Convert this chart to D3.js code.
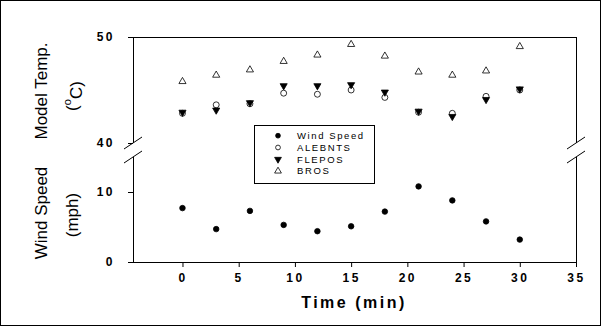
<!DOCTYPE html>
<html>
<head>
<meta charset="utf-8">
<script src="https://cdn.jsdelivr.net/npm/d3@7"></script>
<style>
    body { margin: 0; background: #fff; }
    svg { font-family: "Liberation Sans", Arial, sans-serif; }
    .tick text { font-weight: bold; font-size: 12px; letter-spacing: 2.5px; fill: #000; }
</style>
</head>
<body>
<div id="chart"></div>
<script>
// values
var times = [0, 3, 6, 9, 12, 15, 18, 21, 24, 27, 30];
var windSpeed = [7.7, 4.7, 7.3, 5.3, 4.4, 5.1, 7.2, 10.8, 8.8, 5.8, 3.2];
var alebnts = [42.8, 43.6, 43.7, 44.7, 44.6, 45.0, 44.3, 42.9, 42.8, 44.4, 45.0];
var flepos = [42.9, 43.1, 43.8, 45.4, 45.4, 45.5, 44.8, 43.0, 42.5, 44.1, 45.1];
var bros = [45.8, 46.4, 46.9, 47.7, 48.3, 49.3, 48.2, 46.7, 46.4, 46.8, 49.1];
var xTicks = [0, 5, 10, 15, 20, 25, 30, 35];
var tempTicks = [40, 50];
var windTicks = [0, 10];
var legendNames = ['Wind Speed', 'ALEBNTS', 'FLEPOS', 'BROS'];

var width = 603, height = 327;
var left = 133, right = 576;

var svg = d3.select('#chart')
    .append('svg')
    .attr('width', width)
    .attr('height', height);

// outer frame
svg.append('rect')
    .attr('x', 0.5).attr('y', 0.5)
    .attr('width', 600).attr('height', 325)
    .attr('fill', 'none')
    .attr('stroke', '#000');

var x = d3.scaleLinear().domain([-4.4, 35]).range([left, right]);
var yTemp = d3.scaleLinear().domain([40, 50]).range([143, 37]);
var yWind = d3.scaleLinear().domain([0, 15]).range([262, 157]);

function noDomain(g) { g.select('.domain').remove(); }

// upper panel axis
svg.append('g')
    .attr('transform', 'translate(' + left + ',0)')
    .call(d3.axisLeft(yTemp).tickValues(tempTicks).tickSize(5).tickPadding(13))
    .call(noDomain);

// lower panel axis
svg.append('g')
    .attr('transform', 'translate(' + left + ',0)')
    .call(d3.axisLeft(yWind).tickValues(windTicks).tickSize(5).tickPadding(13))
    .call(noDomain);

svg.append('g')
    .attr('transform', 'translate(0,' + yWind(0) + ')')
    .call(d3.axisBottom(x).tickValues(xTicks).tickSize(5).tickPadding(6))
    .call(noDomain);

var frame = svg.append('g')
    .attr('stroke', '#000')
    .attr('fill', 'none')
    .attr('shape-rendering', 'crispEdges');

// top line, side lines of both panels, bottom line
frame.append('line').attr('x1', left).attr('x2', right).attr('y1', yTemp(50)).attr('y2', yTemp(50));
[left, right].forEach(function (xx) {
    frame.append('line').attr('x1', xx).attr('x2', xx).attr('y1', yTemp(50)).attr('y2', yTemp(40));
    frame.append('line').attr('x1', xx).attr('x2', xx).attr('y1', yWind(15)).attr('y2', yWind(0));
});
frame.append('line').attr('x1', left).attr('x2', right).attr('y1', yWind(0)).attr('y2', yWind(0));

// break marks
var breaks = svg.append('g').attr('stroke', '#000');
[left, right].forEach(function (xx) {
    [yTemp(40), yWind(15)].forEach(function (yy) {
        breaks.append('line')
            .attr('x1', xx - 9).attr('y1', yy + 6)
            .attr('x2', xx + 9).attr('y2', yy - 6);
    });
});

// markers
var dotSym = d3.symbol().type(d3.symbolCircle).size(24);
var circSym = d3.symbol().type(d3.symbolCircle).size(28);
var triSym = d3.symbol().type(d3.symbolTriangle).size(22);

function drawSeries(values, scale, sym, fill, rot) {
    svg.append('g')
        .selectAll('path')
        .data(values)
        .enter().append('path')
        .attr('d', sym)
        .attr('transform', function (d, i) {
            return 'translate(' + x(times[i]) + ',' + scale(d) + ') rotate(' + rot + ')';
        })
        .attr('fill', fill)
        .attr('stroke', '#000')
        .attr('stroke-width', 0.8);
}

drawSeries(bros, yTemp, triSym, '#fff', 0);
drawSeries(alebnts, yTemp, circSym, '#fff', 0);
drawSeries(flepos, yTemp, triSym, '#000', 180);
drawSeries(windSpeed, yWind, dotSym, '#000', 0);

// legend
var legend = svg.append('g');
legend.append('rect')
    .attr('x', 254.5).attr('y', 125.5)
    .attr('width', 120).attr('height', 58)
    .attr('fill', '#fff')
    .attr('stroke', '#000');

var legSmall = d3.symbol().type(d3.symbolCircle).size(18);
var legTri = d3.symbol().type(d3.symbolTriangle).size(20);
var legendSyms = [
    { sym: legSmall, fill: '#000', rot: 0 },
    { sym: legSmall, fill: '#fff', rot: 0 },
    { sym: legTri, fill: '#000', rot: 180 },
    { sym: legTri, fill: '#fff', rot: 0 }
];

legend.selectAll('path')
    .data(legendSyms)
    .enter().append('path')
    .attr('d', function (d) { return d.sym(); })
    .attr('transform', function (d, i) {
        return 'translate(278,' + (135.7 + i * 11.8) + ') rotate(' + d.rot + ')';
    })
    .attr('fill', function (d) { return d.fill; })
    .attr('stroke', '#000')
    .attr('stroke-width', 0.8);

legend.selectAll('text')
    .data(legendNames)
    .enter().append('text')
    .attr('x', 297)
    .attr('y', function (d, i) { return 135.7 + i * 11.8; })
    .attr('dy', '0.35em')
    .attr('font-size', 9.5)
    .attr('letter-spacing', 1.6)
    .text(function (d) { return d; });

// axis titles
function vLabel(txt, cx, cy) {
    return svg.append('text')
        .attr('transform', 'translate(' + cx + ',' + cy + ') rotate(-90)')
        .attr('text-anchor', 'middle')
        .attr('dy', '0.35em')
        .attr('font-size', 17)
        .text(txt);
}

vLabel('Model Temp.', 41, 91);
var degLabel = vLabel('(', 72, 96);
degLabel.append('tspan').attr('font-size', 11).attr('dy', '-0.6em').text('o');
degLabel.append('tspan').attr('dy', '0.6em').text('C)');
vLabel('Wind Speed', 41, 213);
vLabel('(mph)', 72, 215);

svg.append('text')
    .attr('x', 354)
    .attr('y', 302)
    .attr('dy', '0.35em')
    .attr('text-anchor', 'middle')
    .attr('font-size', 16)
    .attr('font-weight', 'bold')
    .attr('letter-spacing', 2.5)
    .text('Time (min)');
</script>
</body>
</html>
